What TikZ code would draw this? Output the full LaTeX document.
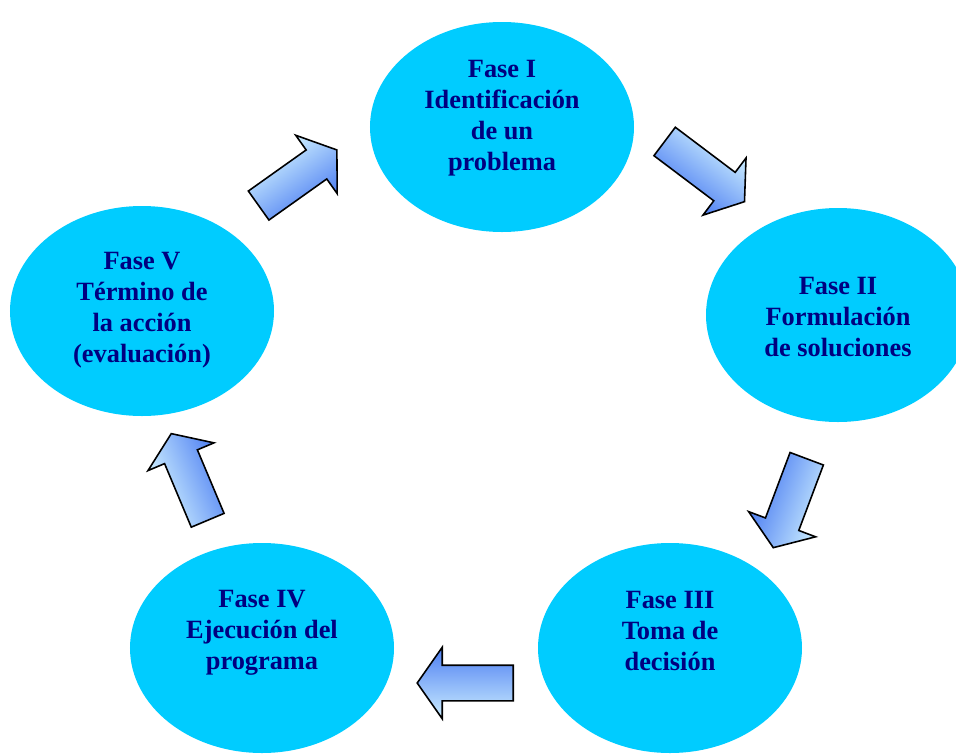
\documentclass[tikz,border=0pt]{standalone}
\usepackage{fontspec}
\setmainfont{Liberation Serif}
\usepackage{xcolor}
\usetikzlibrary{shapes.geometric,shapes.arrows}
\definecolor{celeste}{HTML}{00CCFF}
\definecolor{marino}{HTML}{000080}
\definecolor{flechaclara}{HTML}{CCEEFF}
\definecolor{flechaoscura}{HTML}{4D7EF2}
\begin{document}
\begin{tikzpicture}
[x=0.2mm, y=-0.2mm,
fase/.style={ellipse, fill=celeste, minimum width=52.8mm, minimum height=42mm, inner sep=0},
fasetxt/.style={anchor=north, inner sep=0, align=center, text=marino, font=\fontsize{15}{17.6}\selectfont\bfseries},
flecha/.style={single arrow, draw=black, line width=0.9pt, top color=flechaclara, bottom color=flechaoscura, anchor=tail, minimum height=19.2mm, inner xsep=0, inner ysep=3.4mm, single arrow head extend=3.6mm, single arrow tip angle=110},
]
\useasboundingbox (0,0) rectangle (956,754);
\clip (0,0) rectangle (956,754);

\node at (502,127) [fase]      (f1)     {};
\node at (838,315) [fase, minimum height=42.8mm]      (f2)     {};
\node at (670,648) [fase]      (f3)     {};
\node at (262,648) [fase]      (f4)     {};
\node at (142,311) [fase]      (f5)     {};

\node at (502,60) [fasetxt]      (t1)     {Fase I\\Identificación\\de un\\problema};
\node at (838,277) [fasetxt]      (t2)     {Fase II\\Formulación\\de soluciones};
\node at (670,591) [fasetxt]      (t3)     {Fase III\\Toma de\\decisión};
\node at (262,590) [fasetxt]      (t4)     {Fase IV\\Ejecución del\\programa};
\node at (142,252) [fasetxt]      (t5)     {Fase V\\Término de\\la acción\\(evaluación)};

\begin{scope}[transform canvas={rotate around={-37:(664,141)}}]
\node at (664,141) [flecha, minimum height=20mm]      (a12)     {};
\end{scope}
\begin{scope}[transform canvas={rotate around={-110.6:(807,458)}}]
\node at (807,458) [flecha, minimum height=19mm]      (a23)     {};
\end{scope}
\begin{scope}[transform canvas={rotate around={180:(514,683)}}]
\node at (514,683) [flecha]      (a34)     {};
\end{scope}
\begin{scope}[transform canvas={rotate around={112.8:(208,521)}}]
\node at (208,521) [flecha, minimum height=18.8mm]      (a45)     {};
\end{scope}
\begin{scope}[transform canvas={rotate around={35.4:(258,206)}}]
\node at (258,206) [flecha]      (a51)     {};
\end{scope}
%\draw [->,red, very thick] (f5.east) to [out=10,in=330] (f1.west) ;
\end{tikzpicture}
\end{document}
